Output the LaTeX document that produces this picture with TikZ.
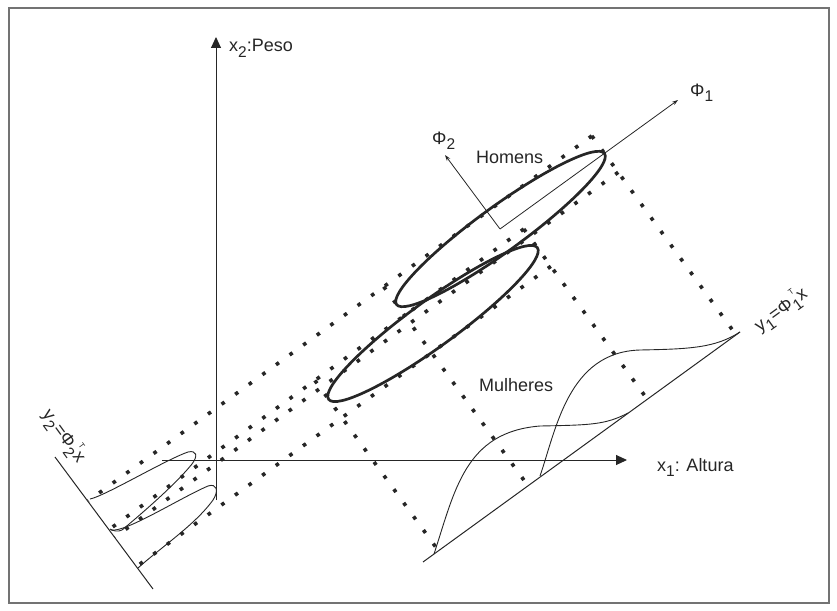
\documentclass[tikz,border=0pt]{standalone}
\usepackage{fontspec}
\setmainfont{Liberation Sans}
\usetikzlibrary{arrows.meta}
\newcommand\lowsub[1]{\raisebox{-0.33em}{\fontsize{15.5}{15.5}\selectfont #1}}
\newcommand\lowsubT[1]{\raisebox{-0.33em}{\fontsize{15.5}{15.5}\selectfont #1}\llap{\raisebox{0.62em}{\fontsize{8}{8}\selectfont T}}}
\definecolor{ink}{HTML}{262626}
\begin{document}
\begin{tikzpicture}[x=1pt,y=-1pt,
  frame/.style={draw=black!55,line width=1.6pt},
  axisline/.style={draw=ink,line width=1pt},
  axisarrow/.style={draw=ink,line width=1pt,-{Triangle[length=11pt,width=10pt]}},
  phiarrow/.style={draw=ink,line width=0.8pt,-{Stealth[length=6pt,width=4pt]}},
  dots/.style={draw=ink,line width=3.6pt,dash pattern=on 3.6pt off 13.2pt},
  ell/.style={draw=ink,line width=2.7pt},
  curve/.style={draw=ink,line width=0.9pt},
  lbl/.style={text=ink,inner sep=0pt,font=\fontsize{18}{20}\selectfont}
]
\useasboundingbox (0,0) rectangle (837,610);
\draw[frame] (9,8) rectangle (829,603);

% main axes
\coordinate (x2s) at (216,500);
\coordinate (x2e) at (216,37);
\coordinate (x1s) at (162,460);
\coordinate (x1e) at (627,460);
\draw[axisarrow] (x2s) -- (x2e);
\draw[axisarrow] (x1s) -- (x1e);
\node[lbl,anchor=base west] (lx2) at (229,52) {x\lowsub{2}:Peso};
\node[lbl,anchor=base west] (lx1) at (657,471) {x\lowsub{1}: Altura};

% projection axes
\coordinate (y1s) at (423,562);
\coordinate (y1e) at (740,332);
\coordinate (y2s) at (55,457);
\coordinate (y2e) at (153,589);
\draw[axisline] (y1s) -- (y1e);
\draw[axisline] (y2s) -- (y2e);
\node[lbl,rotate=36] (ly1) at (781,310) {y\lowsub{1}=Φ\lowsubT{1}x};
\node[lbl,rotate=-54] (ly2) at (64,436) {y\lowsub{2}=Φ\lowsubT{2}x};

% dotted projection lines (bounding rectangles of the ellipses)
\coordinate (hTR) at (591.8,135.9);
\coordinate (hBR) at (618.2,172.3);
\coordinate (hTL) at (383.7,286.7);
\coordinate (mTR) at (523.8,229.0);
\coordinate (mBR) at (550.8,266.3);
\coordinate (mTL) at (314.9,380.4);
\coordinate (pHt) at (88.2,500.9);
\coordinate (pHb) at (114.6,537.3);
\coordinate (pMt) at (109.0,529.6);
\coordinate (pMb) at (136.0,566.9);
\coordinate (qHl) at (527.8,485.5);
\coordinate (qHr) at (735.9,334.7);
\coordinate (qMl) at (438.2,550.4);
\coordinate (qMr) at (647.1,399.0);
\draw[dots] (hTR) -- (pHt);
\draw[dots] (hBR) -- (pHb);
\draw[dots] (mTR) -- (pMt);
\draw[dots] (mBR) -- (pMb);
\draw[dots] (hTR) -- (qHr);
\draw[dots] (hTL) -- (qHl);
\draw[dots] (mTR) -- (qMr);
\draw[dots] (mTL) -- (qMl);

% ellipses
\coordinate (hc) at (500.5,229);
\coordinate (mc) at (433,323.5);
\draw[ell,rotate around={36:(hc)}] (hc) ellipse [x radius=128.5pt, y radius=22.5pt];
\draw[ell,rotate around={36:(mc)}] (mc) ellipse [x radius=129pt, y radius=23pt];

% principal axes
\coordinate (O) at (500,229);
\coordinate (phi1) at (678,100);
\coordinate (phi2) at (445,155);
\draw[phiarrow] (O) -- (phi1);
\draw[phiarrow] (O) -- (phi2);
\node[lbl,anchor=base west] (lphi1) at (690,96) {Φ\lowsub{1}};
\node[lbl,anchor=base west] (lphi2) at (432,144) {Φ\lowsub{2}};
\node[lbl,anchor=base west] (lhom) at (476,163) {Homens};
\node[lbl,anchor=base west] (lmul) at (479,391) {Mulheres};

% distributions on y1
\draw[curve] (434,554) .. controls (455,490) and (465,432) .. (540,426)
  .. controls (590,425) and (605,425) .. (628,413);
\draw[curve] (540,476) .. controls (556,430) and (568,352) .. (640,350)
  .. controls (690,349) and (715,348) .. (740,332);

% distributions on y2
\draw[curve] (90,499) .. controls (105,496) and (165,460) .. (188,452)
  .. controls (197,450) and (198,456) .. (192,464)
  .. controls (175,485) and (140,515) .. (122,530)
  .. controls (118,532) and (113,531) .. (110,529);
\draw[curve] (111,530) .. controls (125,533) and (180,498) .. (208,486)
  .. controls (217,483) and (219,491) .. (213,500)
  .. controls (195,525) and (160,548) .. (138,568);
\end{tikzpicture}
\end{document}
